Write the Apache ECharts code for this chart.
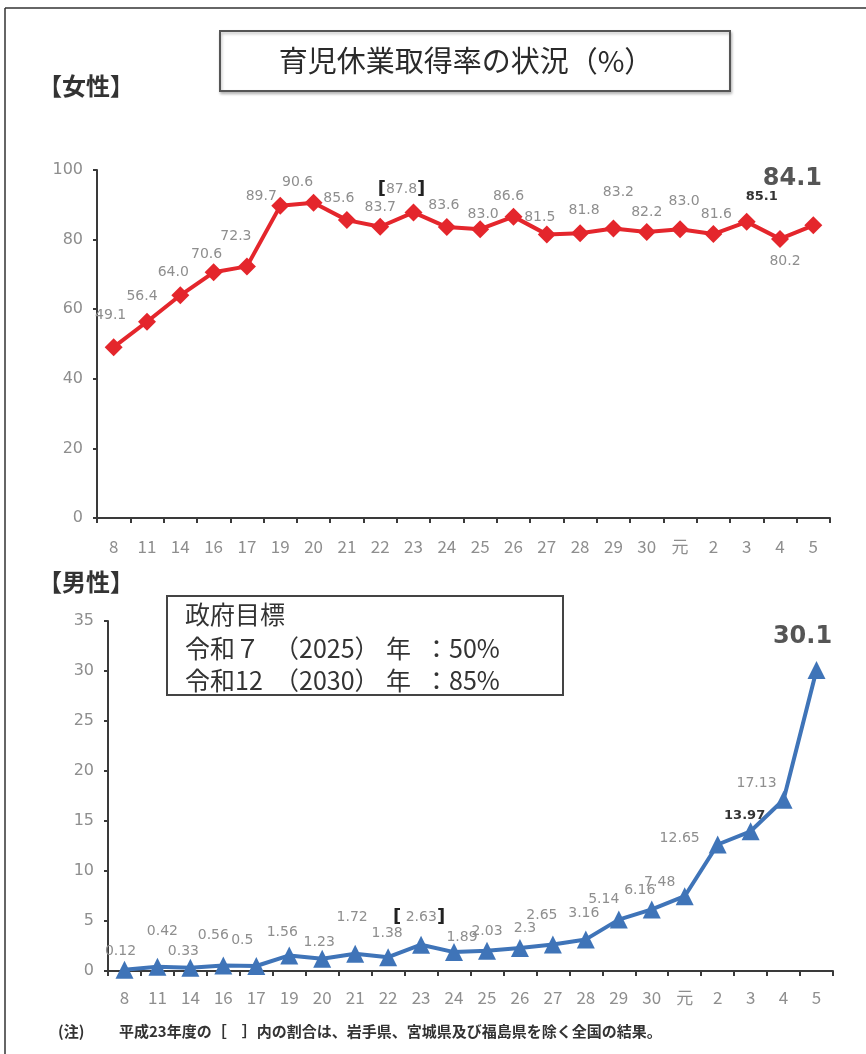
<!DOCTYPE html>
<html>
<head>
<meta charset="utf-8">
<script src="https://cdn.jsdelivr.net/npm/echarts@6/dist/echarts.min.js"></script>
<style>
  html, body { margin: 0; padding: 0; background: #fff; }
  #chart { width: 866px; height: 1054px; }
</style>
</head>
<body>
<div id="chart"></div>
<script>
// 年度（平成8〜30、令和元〜5）
const years = ["8", "11", "14", "16", "17", "19", "20", "21", "22", "23", "24",
  "25", "26", "27", "28", "29", "30", "元", "2", "3", "4", "5"];

// 女性の取得率
const femaleRate = [49.1, 56.4, 64.0, 70.6, 72.3, 89.7, 90.6, 85.6, 83.7, 87.8, 83.6,
  83.0, 86.6, 81.5, 81.8, 83.2, 82.2, 83.0, 81.6, 85.1, 80.2, 84.1];

// 男性の取得率
const maleRate = [0.12, 0.42, 0.33, 0.56, 0.5, 1.56, 1.23, 1.72, 1.38, 2.63, 1.89,
  2.03, 2.3, 2.65, 3.16, 5.14, 6.16, 7.48, 12.65, 13.97, 17.13, 30.1];

const femaleTicks = [0, 20, 40, 60, 80, 100];
const maleTicks = [0, 5, 10, 15, 20, 25, 30, 35];

// ラベルの位置ずらし（点の中心からの px）
const femaleOffsets = [[-3, -32], [-5, -25], [-7, -23], [-7, -18], [-11, -30], [-19, -9],
  [-16, -20], [-8, -22], [0, -19], [-12, -23], [-3, -22], [3, -15], [-5, -20], [-7, -17],
  [4, -23], [5, -36], [0, -20], [4, -28], [3, -20], [15, -25], [5, 22], [-21, -47]];
const maleOffsets = [[-4, -18], [5, -35], [-7, -16], [-10, -30], [-14, -26], [-7, -23],
  [-3, -16], [-3, -36], [-1, -24], [-2, -27], [8, -15], [0, -19], [5, -20], [-11, -29],
  [-2, -26], [-15, -20], [-12, -19], [-25, -14], [-38, -6], [-6, -16], [-27, -16], [-14, -33]];

const font = '"Noto Sans CJK JP", "Noto Sans", sans-serif';
const numFont = '"DejaVu Sans", Verdana, sans-serif';
const gray = "#8e8e8e";
const dark = "#333";

function labelFor(i, value, offsets, bracketIdx, boldIdx, bigIdx) {
  let lab = {
    show: true,
    position: "inside",
    offset: offsets[i],
    color: gray,
    fontSize: 14,
    fontFamily: numFont,
    formatter: String(value)
  };
  if (i === bracketIdx) {
    lab.formatter = "{b|[}" + value + "{b|]}";
    lab.rich = { b: { color: "#222", fontSize: 18, fontWeight: "bold", fontFamily: numFont } };
  }
  if (i === boldIdx) {
    lab.color = dark;
    lab.fontWeight = "bold";
    lab.fontSize = 13;
  }
  if (i === bigIdx) {
    lab.color = "#555";
    lab.fontWeight = "bold";
    lab.fontSize = 24;
  }
  return lab;
}

const femaleData = femaleRate.map((v, i) => ({
  value: v,
  label: labelFor(i, v.toFixed(1), femaleOffsets, 9, 19, 21)
}));
const maleData = maleRate.map((v, i) => ({
  value: v,
  label: labelFor(i, i === 9 ? " " + v : v, maleOffsets, 9, 19, 21)
}));

function xAxis(gridIndex, margin) {
  return {
    type: "category",
    gridIndex: gridIndex,
    data: years,
    axisLine: { lineStyle: { color: "#3a3a3a", width: 2 } },
    axisTick: { show: true, length: 5, lineStyle: { color: "#3a3a3a", width: 2 } },
    axisLabel: { color: gray, fontSize: 17, fontFamily: font, margin: margin, interval: 0 }
  };
}
function yAxis(gridIndex, ticks) {
  return {
    type: "value",
    gridIndex: gridIndex,
    min: ticks[0],
    max: ticks[ticks.length - 1],
    interval: ticks[1] - ticks[0],
    axisLine: { show: true, lineStyle: { color: "#3a3a3a", width: 2 } },
    axisTick: { show: true, length: 4, lineStyle: { color: "#3a3a3a", width: 2 } },
    axisLabel: { color: gray, fontSize: 16, fontFamily: numFont, margin: 14 },
    splitLine: { show: false }
  };
}

// 政府目標の文字列（区切りごと）
const goalLines = [
  { y: 648, parts: [["令和７", 185], ["（2025）", 274], ["年", 386], ["：50%", 424]] },
  { y: 680, parts: [["令和12", 185], ["（2030）", 274], ["年", 386], ["：85%", 424]] }
];

const graphics = [
  // 外枠（上・左）
  { type: "line", shape: { x1: 5, y1: 8, x2: 866, y2: 8 }, style: { stroke: "#333", lineWidth: 1.5 } },
  { type: "line", shape: { x1: 5, y1: 8, x2: 5, y2: 1054 }, style: { stroke: "#333", lineWidth: 1.5 } },
  // タイトル枠
  {
    type: "rect",
    shape: { x: 220, y: 31, width: 510, height: 60 },
    style: { fill: "#fff", stroke: "#555", lineWidth: 2, shadowColor: "rgba(0,0,0,0.25)", shadowBlur: 3, shadowOffsetX: 1, shadowOffsetY: 2 }
  },
  {
    type: "text", x: 466, y: 61,
    style: { text: "育児休業取得率の状況（%）", font: "29px " + font, fill: "#2a2a2a", textAlign: "center", textVerticalAlign: "middle" }
  },
  {
    type: "text", x: 38, y: 86,
    style: { text: "【女性】", font: "bold 24px " + font, fill: "#333", textVerticalAlign: "middle" }
  },
  {
    type: "text", x: 38, y: 582,
    style: { text: "【男性】", font: "bold 24px " + font, fill: "#333", textVerticalAlign: "middle" }
  },
  // 政府目標
  {
    type: "rect",
    shape: { x: 167, y: 596, width: 396, height: 99 },
    style: { fill: "#fff", stroke: "#444", lineWidth: 2 }
  },
  {
    type: "text", x: 185, y: 614,
    style: { text: "政府目標", font: "25px " + font, fill: "#333", textVerticalAlign: "middle" }
  },
  // 注記
  {
    type: "text", x: 58, y: 1031,
    style: { text: "(注)", font: "bold 15px " + font, fill: "#333", textVerticalAlign: "middle" }
  },
  {
    type: "text", x: 119, y: 1031,
    style: { text: "平成23年度の［　］内の割合は、岩手県、宮城県及び福島県を除く全国の結果。", font: "bold 15px " + font, fill: "#333", textVerticalAlign: "middle" }
  }
];
goalLines.forEach(line => {
  line.parts.forEach(p => {
    graphics.push({
      type: "text", x: p[1], y: line.y,
      style: { text: p[0], font: "25px " + font, fill: "#333", textVerticalAlign: "middle" }
    });
  });
});

const chart = echarts.init(document.getElementById("chart"));
chart.setOption({
  backgroundColor: "#fff",
  animation: false,
  grid: [
    { left: 97, top: 170, width: 733, height: 348 },
    { left: 108, top: 621, width: 725, height: 350 }
  ],
  xAxis: [xAxis(0, 20), xAxis(1, 18)],
  yAxis: [yAxis(0, femaleTicks), yAxis(1, maleTicks)],
  series: [
    {
      name: "女性",
      type: "line",
      xAxisIndex: 0,
      yAxisIndex: 0,
      data: femaleData,
      symbol: "diamond",
      symbolSize: 18,
      lineStyle: { color: "#e4262c", width: 4 },
      itemStyle: { color: "#e4262c" },
      z: 3
    },
    {
      name: "男性",
      type: "line",
      xAxisIndex: 1,
      yAxisIndex: 1,
      data: maleData,
      symbol: "triangle",
      symbolSize: 18,
      lineStyle: { color: "#3f74b8", width: 4 },
      itemStyle: { color: "#3f74b8" },
      z: 3
    }
  ],
  graphic: graphics
});
</script>
</body>
</html>
